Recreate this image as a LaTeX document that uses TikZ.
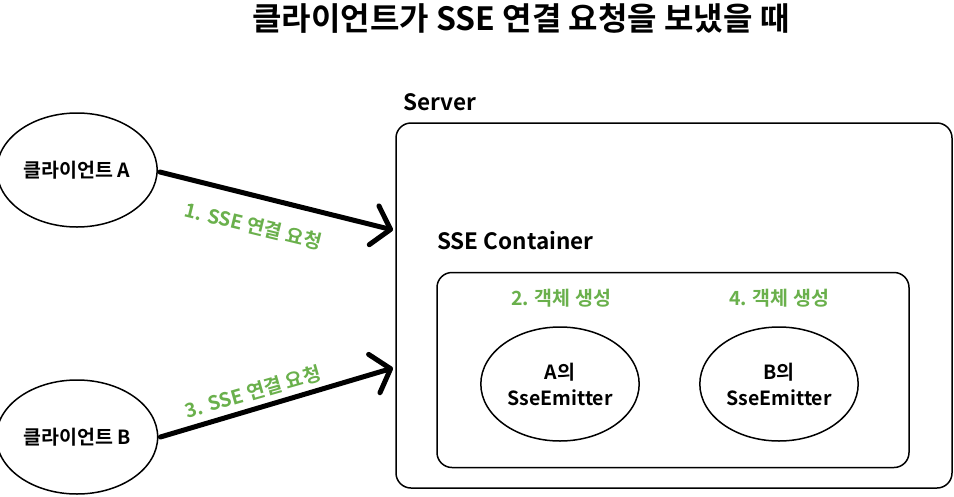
\documentclass[tikz,border=0pt]{standalone}
\usepackage{fontspec}
\setmainfont{Noto Sans CJK KR}[BoldFont={Noto Sans CJK KR Bold}]
\usetikzlibrary{arrows.meta,shapes.geometric}
\definecolor{lgreen}{RGB}{106,176,76}
\tikzset{
  ell/.style={draw,line width=1.5pt,ellipse,minimum width=152pt,minimum height=114pt},
  txt/.style={font=\fontsize{19.5}{26}\selectfont\bfseries,align=center},
  head/.style={font=\fontsize{22.5}{26}\selectfont\bfseries,anchor=west,inner sep=0pt},
  glabel/.style={font=\fontsize{19.5}{23}\selectfont\bfseries,text=lgreen},
  bigarrow/.style={line width=5pt,line cap=round,-{Straight Barb[length=17pt,width=40pt,line cap=round,line join=round]}},
  boxst/.style={draw,line width=1.5pt,rounded corners=15pt}
}
\begin{document}
\begin{tikzpicture}[x=1pt,y=-1pt]
\useasboundingbox (0,0) rectangle (954,496);
\node[font=\fontsize{32}{36}\selectfont\bfseries] (title) at (521,18) {클라이언트가 SSE 연결 요청을 보냈을 때};
\node[ell,txt] (ca) at (77,170) {클라이언트 A};
\node[ell,txt] (cb) at (77,437) {클라이언트 B};
\node[boxst,minimum width=556pt,minimum height=365pt] (server) at (674,305.5) {};
\node[head] (slabel) at (403,102) {Server};
\node[head] (clabel) at (437,241) {SSE Container};
\node[boxst,minimum width=472pt,minimum height=195pt] (cont) at (673,370) {};
\node[glabel] (g2) at (561,298) {2. 객체 생성};
\node[glabel] (g4) at (779,298) {4. 객체 생성};
\node[ell,minimum width=154pt,txt] (ea) at (560,384) {A의\\SseEmitter};
\node[ell,minimum width=154pt,txt] (eb) at (779,384) {B의\\SseEmitter};
\coordinate (ta) at (393,230);
\coordinate (tb) at (393,368);
\draw[bigarrow] (ca.east) ++(2,2) -- (ta);
\draw[bigarrow] (cb.east) ++(2,0) -- (tb);
\node[glabel,rotate=-13.6] (l1) at (253,226) {1. SSE 연결 요청};
\node[glabel,rotate=16] (l3) at (253,392) {3. SSE 연결 요청};
\end{tikzpicture}
\end{document}
